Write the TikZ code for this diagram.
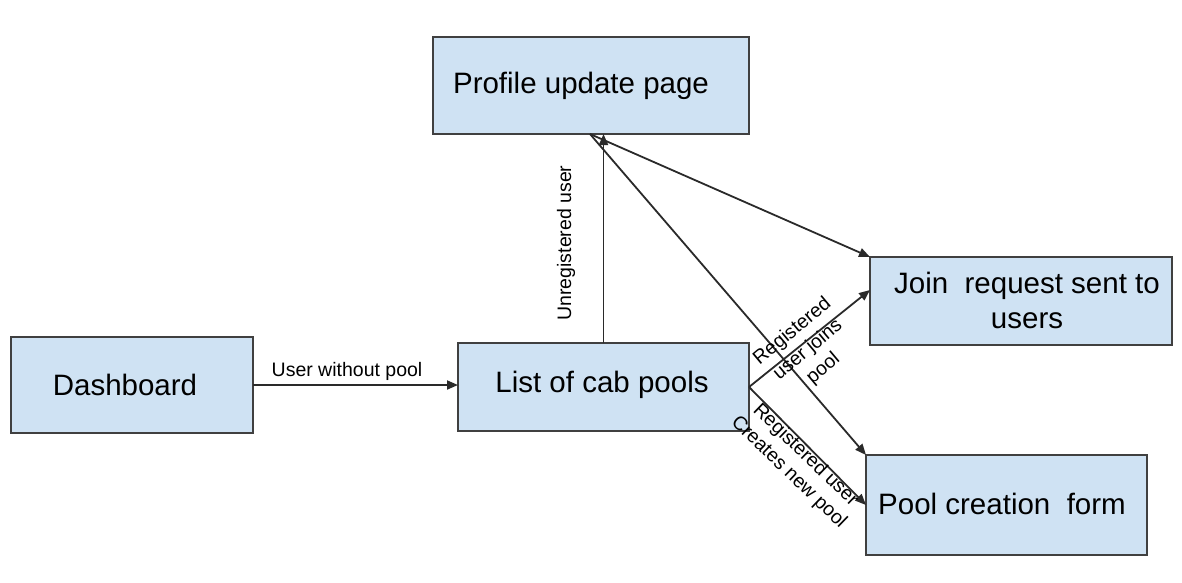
\documentclass[tikz,border=0pt]{standalone}
\usepackage{fontspec}
\setmainfont{Liberation Sans}
\usetikzlibrary{arrows.meta,calc}
\definecolor{boxfill}{HTML}{CFE2F3}
\definecolor{boxdraw}{HTML}{404040}
\definecolor{linecol}{HTML}{2A2A2A}
\begin{document}
\begin{tikzpicture}[x=1pt,y=-1pt,
  box/.style={draw=boxdraw, fill=boxfill, line width=2pt, rectangle, outer sep=0pt, inner sep=0pt},
  boxtext/.style={align=center, inner sep=0pt, font=\fontsize{29.5}{35}\selectfont},
  conn/.style={draw=linecol, line width=1.8pt, -{Triangle[length=11pt,width=9pt]}},
  lbl/.style={font=\fontsize{19.5}{24}\selectfont, align=center, inner sep=0pt}]
\useasboundingbox (0,0) rectangle (1182,582);
\node[box, minimum width=316pt, minimum height=97pt] (profile) at (591,85.5) {};
\node[box, minimum width=242pt, minimum height=96pt] (dash) at (132,385) {};
\node[box, minimum width=291pt, minimum height=88pt] (list) at (603.5,387) {};
\node[box, minimum width=302pt, minimum height=88pt] (join) at (1021,301) {};
\node[box, minimum width=281pt, minimum height=100pt] (pool) at (1006.5,505) {};

\node[boxtext] (profile-t) at (581,85.5) {Profile update page};
\node[boxtext] (dash-t) at (125,385) {Dashboard};
\node[boxtext] (list-t) at (602,385) {List of cab pools};
\node[boxtext] (join-t) at (1027,300) {Join\ \ request sent to\\users};
\node[boxtext] (pool-t) at (1002,504) {Pool creation\ \ form};

\coordinate (ptop) at (590,134);
\draw[conn] (dash.east |- 0,385) -- (list.west |- 0,385);
\draw[conn] (list.north) -- (list.north |- profile.south);
\draw[conn] (ptop) -- (join.north west);
\draw[conn] (ptop) -- (pool.north west);
\draw[conn] (list.east) -- (join.west |- 0,290);
\draw[conn] (list.east) -- (pool.west);

\node[lbl] (l1) at (347,371) {User without pool};
\node[lbl, rotate=90] (l2) at (566,243) {Unregistered user};
\node[lbl, rotate=40] (l3) at (808,350) {Registered\\user joins\\pool};
\node[lbl, rotate=-44] (l4) at (797,464) {Registered user\\Creates new pool};
\end{tikzpicture}
\end{document}
